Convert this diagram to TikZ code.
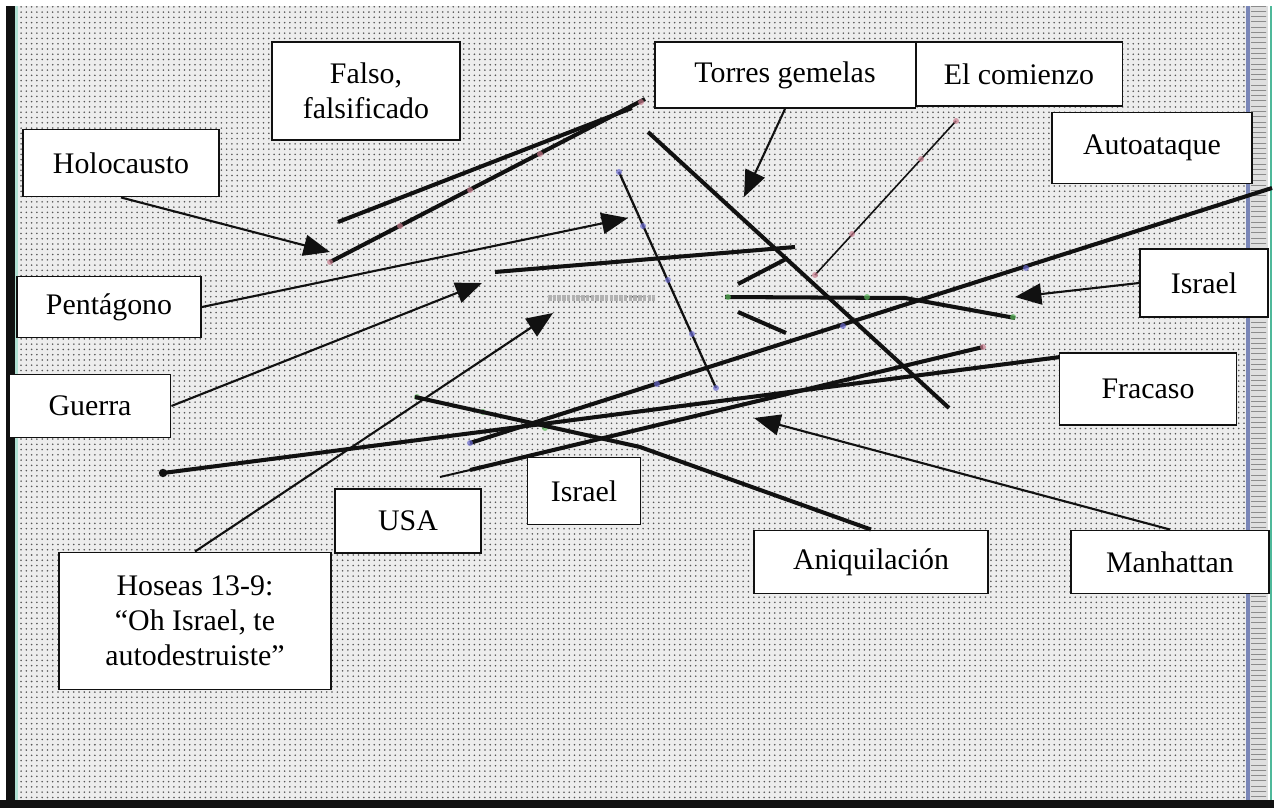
\documentclass[tikz,border=0pt]{standalone}
\usepackage{fontspec}
\setmainfont{Liberation Serif}
\usetikzlibrary{arrows.meta,patterns}
\definecolor{Ink}{HTML}{111111}
\definecolor{Paper}{HTML}{EDEDED}
\definecolor{Speck}{HTML}{555555}
\definecolor{Steel}{HTML}{7A86B8}
\definecolor{Teal}{HTML}{4FB89A}
\definecolor{Rose}{HTML}{C97D8E}
\definecolor{Violet}{HTML}{6A6AD0}
\definecolor{Leaf}{HTML}{5CB85C}
\newcommand{\marca}[3]{\fill[#1,opacity=.7] (#2,#3) circle (1.7pt);}

\begin{document}
\begin{tikzpicture}[x=0.02cm,y=-0.02cm,
    caja/.style={draw=Ink,line width=1.1pt,fill=white,align=center,inner sep=0pt,font=\fontsize{17}{20}\selectfont},
    grueso/.style={Ink,line width=2.3pt},
    fino/.style={Ink,line width=1.1pt},
    flecha/.style={Ink,line width=1.2pt,-{Triangle[length=15pt,width=12pt]}}]
        \useasboundingbox (0,0) rectangle (1274,808);
        \fill[white] (0,0) rectangle (1274,808);
        \fill[Paper] (15,6) rectangle (1246,800);
        \fill[pattern=dots,pattern color=Speck] (15,6) rectangle (1246,800);
        \fill[gray!25] (1246,6) rectangle (1268,800);
        \fill[pattern=horizontal lines,pattern color=gray!90] (1251,6) rectangle (1266,800);
        \draw[Steel,line width=2pt] (1248,6)--(1248,800);
        \draw[Teal,line width=1.3pt] (1271,6)--(1271,800);
        \fill[Ink] (6,6) rectangle (15,808);
        \fill[Teal!45] (15,6) rectangle (18,800);
        \fill[Ink] (0,800) rectangle (1274,808);

        \draw[grueso] (338,222)--(632,108);
        \draw[grueso] (330,262)--(645,99);
        \draw[grueso] (495,272)--(795,247);
        \draw[grueso] (648,132)--(949,408);
        \draw[grueso] (738,284)--(788,258);
        \draw[grueso] (725,297)--(905,298)--(1015,318);
        \draw[grueso] (738,312)--(786,333);
        \draw[grueso] (470,443)--(1272,188);
        \draw[grueso] (163,473)--(1068,356);
        \draw[fino] (440,477)--(470,470);
        \draw[grueso] (470,470)--(983,347);
        \draw[Ink,line width=1.3pt] (619,172)--(716,388);
        \draw[Ink,line width=.9pt] (956,121)--(815,275);
        \draw[gray!60,line width=3.5pt,dash pattern=on 2pt off .7pt] (548,298)--(655,298);
        \fill[Ink] (163,473) circle (2.4pt) (1068,356) circle (2.4pt);

        \marca{Rose}{330}{262}\marca{Rose}{400}{226}\marca{Rose}{470}{190}\marca{Rose}{540}{154}\marca{Rose}{641}{102}
        \marca{Rose}{956}{121}\marca{Rose}{921}{159}\marca{Rose}{852}{234}\marca{Rose}{815}{275}\marca{Rose}{983}{347}
        \marca{Violet}{619}{172}\marca{Violet}{643}{226}\marca{Violet}{668}{280}\marca{Violet}{692}{334}\marca{Violet}{716}{388}
        \marca{Violet}{470}{443}\marca{Violet}{657}{384}\marca{Violet}{843}{326}\marca{Violet}{1026}{268}
        \marca{Leaf}{728}{297}\marca{Leaf}{867}{297}\marca{Leaf}{1013}{317}\marca{Leaf}{417}{397}\marca{Leaf}{483}{412}\marca{Leaf}{545}{428}

        \node[caja,minimum width=3.92cm,minimum height=1.34cm] (holo) at (121,163) {Holocausto};
        \node[caja,minimum width=3.76cm,minimum height=1.96cm] (falso) at (366,91) {Falso,\\falsificado};
        \node[caja,minimum width=5.22cm,minimum height=1.32cm] (torres) at (785,75) {Torres gemelas};
        \node[caja,minimum width=4.14cm,minimum height=1.28cm] (comienzo) at (1019,74) {El comienzo};
        \node[caja,minimum width=4.0cm,minimum height=1.42cm] (auto) at (1152,148) {Autoataque};
        \node[caja,minimum width=3.68cm,minimum height=1.22cm] (pent) at (109,307) {Pentágono};
        \node[caja,minimum width=2.56cm,minimum height=1.36cm] (israelR) at (1204,283) {Israel};
        \node[caja,minimum width=3.22cm,minimum height=1.26cm] (guerra) at (90,406) {Guerra};
        \node[caja,minimum width=3.54cm,minimum height=1.44cm] (fracaso) at (1148,389) {Fracaso};
        \node[caja,minimum width=2.92cm,minimum height=1.28cm] (usa) at (408,521) {USA};
        \node[caja,minimum width=2.26cm,minimum height=1.34cm] (israelM) at (584,491) {Israel};
        \node[caja,minimum width=4.68cm,minimum height=1.26cm] (aniq) at (871,562) {Aniquilación};
        \node[caja,minimum width=3.96cm,minimum height=1.26cm] (manh) at (1170,562) {Manhattan};
        \node[caja,minimum width=5.44cm,minimum height=2.74cm] (hoseas) at (195,621) {Hoseas 13-9:\\“Oh Israel, te\\autodestruiste”};

        \coordinate (pHolo) at (330,252);
        \coordinate (pPent) at (628,218);
        \coordinate (pGuerra) at (482,283);
        \coordinate (pHoseas) at (553,313);
        \coordinate (pTorres) at (744,197);
        \coordinate (pIsrael) at (1015,297);
        \coordinate (pManh) at (754,418);
        \coordinate (pAniq) at (415,397);

        \draw[flecha] (holo.south) -- (pHolo);
        \draw[flecha] (pent.east) -- (pPent);
        \draw[flecha] (guerra.east) -- (pGuerra);
        \draw[flecha] (hoseas.north) -- (pHoseas);
        \draw[flecha] (torres.south) -- (pTorres);
        \draw[flecha] (israelR.west) -- (pIsrael);
        \draw[flecha] (manh.north) -- (pManh);
        \draw[grueso] (pAniq) -- (640,447) -- (aniq.north);
      \end{tikzpicture}
\end{document}
